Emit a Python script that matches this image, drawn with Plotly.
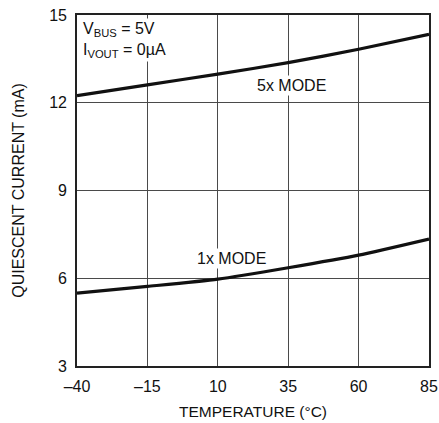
import plotly.graph_objects as go

temperature = [-40, -15, 10, 35, 60, 85]
mode5x = [12.24, 12.61, 12.98, 13.37, 13.83, 14.34]
mode1x = [5.49, 5.72, 5.97, 6.36, 6.79, 7.34]
x_ticks = [-40, -15, 10, 35, 60, 85]
x_tick_labels = ["–40", "–15", "10", "35", "60", "85"]
y_ticks = [3, 6, 9, 12, 15]

FONT = "Liberation Sans, Arial, Helvetica, sans-serif"
INK = "#111111"

fig = go.Figure()
for name, ys in [("5x MODE", mode5x), ("1x MODE", mode1x)]:
    fig.add_trace(go.Scatter(x=temperature, y=ys, mode="lines", name=name,
                             line=dict(color=INK, width=3.2, shape="spline", smoothing=0.6),
                             showlegend=False, hoverinfo="skip"))

fig.update_layout(
    width=439, height=423,
    margin=dict(l=77, r=10, t=15, b=57),
    paper_bgcolor="white", plot_bgcolor="white",
    font=dict(family=FONT, size=16, color=INK),
    xaxis=dict(range=[-40, 85], tickvals=x_ticks, ticktext=x_tick_labels,
               automargin=False,
               showgrid=True, gridcolor="#4a4a4a", gridwidth=1,
               showline=True, linecolor="#222222", linewidth=1.6, mirror=True,
               ticks="", zeroline=False, tickfont=dict(size=16), ticklabelstandoff=5,
               title=dict(text="TEMPERATURE (°C)", font=dict(size=15.5), standoff=12)),
    yaxis=dict(range=[3, 15], tickvals=y_ticks,
               automargin=False,
               showgrid=True, gridcolor="#4a4a4a", gridwidth=1,
               showline=True, linecolor="#222222", linewidth=1.6, mirror=True,
               ticks="", zeroline=False, tickfont=dict(size=16), ticklabelstandoff=5,
               title=dict(text="QUIESCENT CURRENT (mA)", font=dict(size=16), standoff=21)),
)

fig.add_annotation(x=-40, y=15, xref="x", yref="y", xanchor="left", yanchor="top",
                   xshift=4, yshift=-3, align="left", showarrow=False,
                   text="V<sub>BUS</sub> = 5V<br>I<sub>VOUT</sub> = 0µA",
                   font=dict(size=16), bgcolor="white", borderpad=1)
fig.add_annotation(x=36.3, y=12.59, xref="x", yref="y", showarrow=False,
                   text="5x MODE", font=dict(size=16), bgcolor="white", borderpad=1)
fig.add_annotation(x=14.9, y=6.69, xref="x", yref="y", showarrow=False,
                   text="1x MODE", font=dict(size=16), bgcolor="white", borderpad=1)

fig.write_html("out.html", config={"displayModeBar": False},
               post_script="document.body.style.margin='0';document.body.style.overflow='hidden';")
